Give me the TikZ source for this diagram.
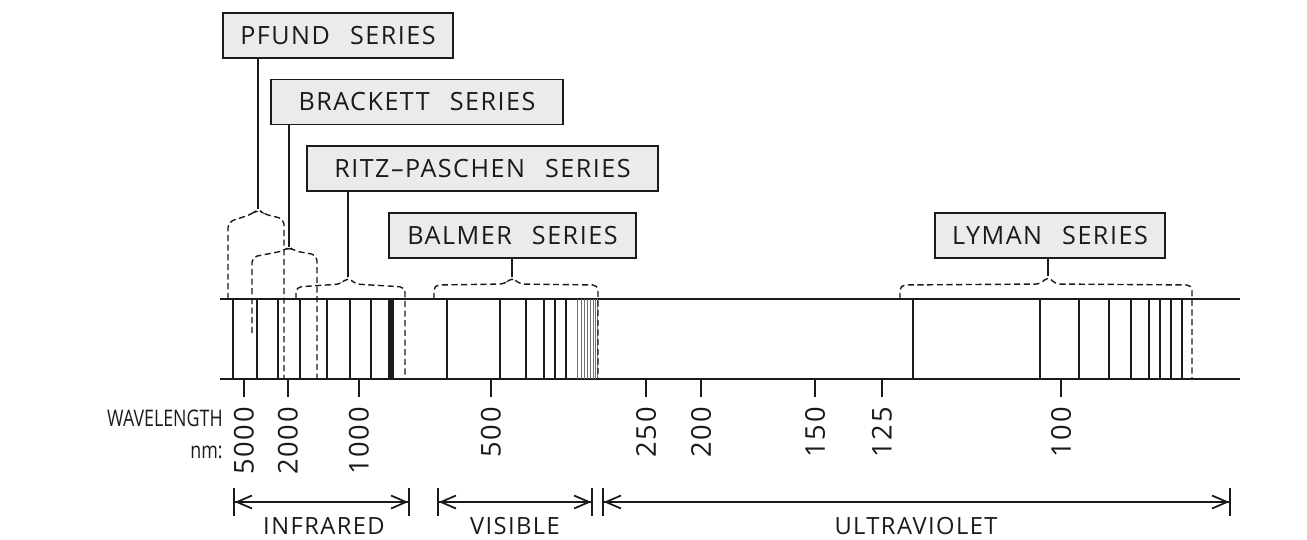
\documentclass[tikz,border=0pt]{standalone}
\usepackage{fontspec}
\setmainfont{Open Sans}[LetterSpace=6,WordSpace=2.5]
\newfontfamily\narrowfont{Open Sans}[FakeStretch=0.78]
\usetikzlibrary{arrows.meta}
\definecolor{SpecInk}{HTML}{1A1A1A}
\definecolor{SpecBox}{HTML}{EBEBEB}
\definecolor{SpecThin}{HTML}{707070}

\begin{document}
\begin{tikzpicture}[
      x=0.02cm,y=-0.02cm,
      series/.style={draw=SpecInk,fill=SpecBox,line width=.9pt,minimum height=.9cm,
        inner sep=0pt,text=SpecInk,font=\fontsize{14.3}{17}\selectfont},
      brace/.style={dash pattern=on 3.5pt off 2pt,line width=.8pt,rounded corners=3pt,SpecInk},
      stem/.style={line width=.9pt,SpecInk},
      rail/.style={line width=1.3pt,SpecInk},
      specline/.style={line width=1.2pt,SpecInk},
      faint/.style={line width=.5pt,SpecThin},
      tick/.style={line width=1.2pt,SpecInk},
      tickval/.style={rotate=90,anchor=east,inner sep=0pt,text=SpecInk,
        font=\fontsize{15.5}{18}\selectfont},
      spanarrow/.style={{Bar[width=5.6mm]Straight Barb[length=3mm,width=2.6mm]}-{Straight Barb[length=3mm,width=2.6mm]Bar[width=5.6mm]},
        line width=1pt,SpecInk},
      spanlbl/.style={inner sep=0pt,text=SpecInk,font=\fontsize{13.5}{16}\selectfont},
      axislbl/.style={anchor=east,inner sep=0pt,text=SpecInk,font=\narrowfont\fontsize{13}{15}\selectfont}
    ]
      \useasboundingbox (0,0) rectangle (1307,539);

      % series labels
      \node[series,minimum width=4.6cm] (pfund) at (338,35.5) {PFUND SERIES};
      \node[series,minimum width=5.84cm] (brackett) at (417,102) {BRACKETT SERIES};
      \node[series,minimum width=7.02cm] (paschen) at (482.5,168.5) {RITZ–PASCHEN SERIES};
      \node[series,minimum width=4.94cm] (balmer) at (512.5,235.5) {BALMER SERIES};
      \node[series,minimum width=4.6cm] (lyman) at (1050,235.5) {LYMAN SERIES};

      % spectrum band
      \coordinate (topL) at (220,299);
      \coordinate (topR) at (1240,299);
      \coordinate (botL) at (220,379);
      \coordinate (botR) at (1240,379);
      \draw[rail] (topL) -- (topR);
      \draw[rail] (botL) -- (botR);
      \foreach \x in {233,257,278,300,327,350,371,447,500,526,544,555,566,913,1040,1079,1109,1131,1149,1160,1171,1182}
        \draw[specline] (\x,299) -- (\x,379);
      \draw[line width=3.4pt,SpecInk] (391,299) -- (391,379);
      \foreach \x in {577,581,584,587,590,593,595,597}
        \draw[faint] (\x,299) -- (\x,379);

      % brackets
      \coordinate (pfundtip) at (258,209);
      \coordinate (bracktip) at (289,247);
      \coordinate (paschtip) at (348,277);
      \coordinate (balmtip) at (512,277);
      \coordinate (lymtip) at (1048,276);
      \draw[brace] (228,299) -- (228,222) -- (252,214) -- (pfundtip) -- (264,214) -- (284,219) -- (284,379);
      \draw[brace] (252,333) -- (252,257) -- (283,251) -- (bracktip) -- (295,251) -- (317,255) -- (317,379);
      \draw[brace] (296,299) -- (296,287) -- (341,284) -- (paschtip) -- (355,284) -- (405,287) -- (405,379);
      \draw[brace] (434,299) -- (434,285) -- (505,284) -- (balmtip) -- (519,284) -- (598,285) -- (598,379);
      \draw[brace] (900,299) -- (900,285) -- (1041,284) -- (lymtip) -- (1055,284) -- (1192,285) -- (1192,379);
      \draw[stem] (pfund.south -| pfundtip) -- (pfundtip);
      \draw[stem] (brackett.south -| bracktip) -- (bracktip);
      \draw[stem] (paschen.south -| paschtip) -- (paschtip);
      \draw[stem] (balmer.south -| balmtip) -- (balmtip);
      \draw[stem] (lyman.south -| lymtip) -- (lymtip);

      % wavelength scale
      \node[axislbl] (wavelbl) at (223,418) {WAVELENGTH};
      \node[axislbl] (unitlbl) at (223,452) {nm:};
      \foreach \x/\v in {244/5000,288/2000,359/1000,491/500,646/250,701/200,815/150,882/125,1061/100}{
        \draw[tick] (\x,379) -- (\x,397);
        \node[tickval] (val\v) at (\x,407) {\v};
      }

      % regions
      \coordinate (irL) at (233,502);
      \coordinate (irR) at (410,502);
      \coordinate (visL) at (437,502);
      \coordinate (visR) at (593,502);
      \coordinate (uvL) at (602,502);
      \coordinate (uvR) at (1231,502);
      \draw[spanarrow] (irL) -- (irR);
      \draw[spanarrow] (visL) -- (visR);
      \draw[spanarrow] (uvL) -- (uvR);
      \node[spanlbl] (irlbl) at (324,526) {INFRARED};
      \node[spanlbl] (vislbl) at (515,526) {VISIBLE};
      \node[spanlbl] (uvlbl) at (916,526) {ULTRAVIOLET};
    \end{tikzpicture}
\end{document}
